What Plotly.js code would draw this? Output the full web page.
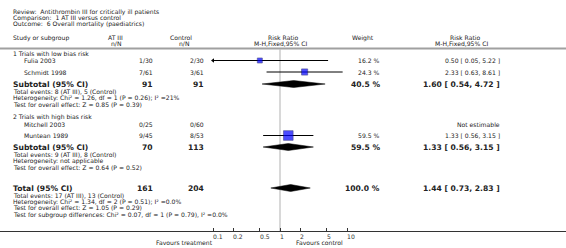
<!DOCTYPE html>
<html><head><meta charset="utf-8">
<script src="https://cdn.plot.ly/plotly-3.0.1.min.js"></script>
<style>html,body{margin:0;padding:0;background:#fff;overflow:hidden}#chart{width:566px;height:248px}</style>
</head><body><div id="chart"></div>
<script>
// ---------------- data ----------------
const reviewTitle = 'Antithrombin III for critically ill patients';
const comparisonTitle = '1 AT III versus control';
const outcomeTitle = '6 Overall mortality (paediatrics)';
const groupNames = ['1 Trials with low bias risk', '2 Trials with high bias risk'];
const studyNames = ['Fulia 2003', 'Schmidt 1998', 'Mitchell 2003', 'Muntean 1989'];
const studyGroup = [0, 0, 1, 1];
const treatEvents = ['1/30', '7/61', '0/25', '9/45'];
const controlEvents = ['2/30', '3/61', '0/60', '8/53'];
const studyRR = [0.50, 2.33, null, 1.33];
const studyLow = [0.05, 0.63, null, 0.56];
const studyHigh = [5.22, 8.61, null, 3.15];
const studyWeight = [16.2, 24.3, null, 59.5];
const subTreatN = [91, 70];
const subControlN = [91, 113];
const subRR = [1.60, 1.33];
const subLow = [0.54, 0.56];
const subHigh = [4.72, 3.15];
const subWeight = [40.5, 59.5];
const subEventsText = ['Total events: 8 (AT III), 5 (Control)', 'Total events: 9 (AT III), 8 (Control)'];
const subHetText = ['Heterogeneity: Chi\u00b2 = 1.26, df = 1 (P = 0.26); I\u00b2 =21%', 'Heterogeneity: not applicable'];
const subTestText = ['Test for overall effect: Z = 0.85 (P = 0.39)', 'Test for overall effect: Z = 0.64 (P = 0.52)'];
const totalTreatN = 161;
const totalControlN = 204;
const totalRR = 1.44, totalLow = 0.73, totalHigh = 2.83;
const totalWeight = 100.0;
const totalNotes = ['Total events: 17 (AT III), 13 (Control)',
  'Heterogeneity: Chi\u00b2 = 1.34, df = 2 (P = 0.51); I\u00b2 =0.0%',
  'Test for overall effect: Z = 1.05 (P = 0.29)',
  'Test for subgroup differences: Chi\u00b2 = 0.07, df = 1 (P = 0.79), I\u00b2 =0.0%'];
const tickVals = [0.1, 0.2, 0.5, 1, 2, 5, 10];
const tickLabels = ['0.1', '0.2', '0.5', '1', '2', '5', '10'];
const favoursLeft = 'Favours treatment';
const favoursRight = 'Favours control';

// ---------------- layout geometry ----------------
const W = 566, H = 248, AXIS_Y = 231;
const PX_ONE = 280, PX_DECADE = 67;
const FONT = 'DejaVu Sans';
const FS = 6.1, FSB = 7.6;
const TXT = '#222';
const LS = 6.3;
const studyRowY = [60.5, 72, 124.5, 135.5];
const groupLabelY = [54, 117.5];
const subRowY = [84, 147];
const noteOffsets = [7.5, 7.5 + LS, 7.5 + 2 * LS];
const totalRowY = 188;
const totalNoteOffsets = [7.3, 13.6, 19.9, 26.6];
const colStudy = 13, colStudyIndent = 24, colTreat = 153, colCtrl = 204, colWeight = 380, colRR = 500;

const xp = px => px / W;
const yp = py => (AXIS_Y - py) / AXIS_Y;
function ann(text, px, py, anchor, size, bold, color) {
  return {xref: 'paper', yref: 'paper', x: xp(px), y: yp(py), xanchor: anchor, yanchor: 'middle',
    text: bold ? '<b>' + text + '</b>' : text, showarrow: false, borderpad: 0, borderwidth: 0,
    font: {family: FONT, size: size || FS, color: color || TXT}};
}
const fmtRR = (r, l, h) => r.toFixed(2) + ' [ ' + l.toFixed(2) + ', ' + h.toFixed(2) + ' ]';
const fmtW = w => w.toFixed(1) + ' %';

const annotations = [];
annotations.push(ann('Review:\u00a0 ' + reviewTitle, colStudy, 11.5, 'left'));
annotations.push(ann('Comparison:\u00a0 ' + comparisonTitle, colStudy, 11.5 + LS, 'left'));
annotations.push(ann('Outcome:\u00a0 ' + outcomeTitle, colStudy, 11.5 + 2 * LS, 'left'));
annotations.push(ann('Study or subgroup', colStudy, 37.5, 'left'));
annotations.push(ann('AT III', 123, 37.5, 'right'));
annotations.push(ann('n/N', 121, 43.6, 'right'));
annotations.push(ann('Control', 192, 37.5, 'right'));
annotations.push(ann('n/N', 189, 43.6, 'right'));
annotations.push(ann('Risk Ratio', 283, 37.5, 'center'));
annotations.push(ann('M-H,Fixed,95% CI', 280, 43.6, 'center'));
annotations.push(ann('Weight', 363, 37.5, 'center'));
annotations.push(ann('Risk Ratio', 465, 37.5, 'center'));
annotations.push(ann('M-H,Fixed,95% CI', 461, 43.6, 'center'));

groupNames.forEach((g, gi) => {
  annotations.push(ann(g, colStudy, groupLabelY[gi], 'left'));
  const y = subRowY[gi];
  annotations.push(ann('Subtotal (95% CI)', colStudy, y, 'left', FSB, true));
  annotations.push(ann(String(subTreatN[gi]), colTreat, y, 'right', FSB, true));
  annotations.push(ann(String(subControlN[gi]), colCtrl, y, 'right', FSB, true));
  annotations.push(ann(fmtW(subWeight[gi]), colWeight, y, 'right', FSB, true));
  annotations.push(ann(fmtRR(subRR[gi], subLow[gi], subHigh[gi]), colRR, y, 'right', FSB, true));
  annotations.push(ann(subEventsText[gi], colStudy, y + noteOffsets[0], 'left'));
  annotations.push(ann(subHetText[gi], colStudy, y + noteOffsets[1], 'left'));
  annotations.push(ann(subTestText[gi], colStudy, y + noteOffsets[2], 'left'));
});
studyNames.forEach((s, i) => {
  const y = studyRowY[i];
  annotations.push(ann(s, colStudyIndent, y, 'left'));
  annotations.push(ann(treatEvents[i], colTreat, y, 'right'));
  annotations.push(ann(controlEvents[i], colCtrl, y, 'right'));
  if (studyRR[i] == null) {
    annotations.push(ann('Not estimable', colRR, y, 'right'));
  } else {
    annotations.push(ann(fmtW(studyWeight[i]), colWeight, y, 'right'));
    annotations.push(ann(fmtRR(studyRR[i], studyLow[i], studyHigh[i]), colRR, y, 'right'));
  }
});
annotations.push(ann('Total (95% CI)', colStudy, totalRowY, 'left', FSB, true));
annotations.push(ann(String(totalTreatN), colTreat, totalRowY, 'right', FSB, true));
annotations.push(ann(String(totalControlN), colCtrl, totalRowY, 'right', FSB, true));
annotations.push(ann(fmtW(totalWeight), colWeight, totalRowY, 'right', FSB, true));
annotations.push(ann(fmtRR(totalRR, totalLow, totalHigh), colRR, totalRowY, 'right', FSB, true));
totalNotes.forEach((t, k) => annotations.push(ann(t, colStudy, totalRowY + totalNoteOffsets[k], 'left')));

// tick labels (left-aligned at tick, as in the source)
tickVals.forEach((v, k) => {
  annotations.push({xref: 'x', yref: 'paper', x: Math.log10(v), y: yp(236.5), xanchor: 'left', yanchor: 'middle',
    text: tickLabels[k], showarrow: false, borderpad: 0, borderwidth: 0, font: {family: FONT, size: FS, color: '#333'}});
});
annotations.push(ann(favoursLeft, 213, 242.5, 'right'));
annotations.push(ann(favoursRight, 296, 242.5, 'left'));

// ---------------- traces ----------------
const XMIN = tickVals[0], XMAX = tickVals[tickVals.length - 1];
const traces = [];
traces.push({type: 'scatter', mode: 'lines', x: [1, 1], y: [49.5, AXIS_Y], line: {color: '#d8d8d8', width: 2}, hoverinfo: 'skip'});

const ciX = [], ciY = [], sqX = [], sqY = [], sqS = [], arX = [], arY = [];
studyRR.forEach((r, i) => {
  if (r == null) return;
  const y = studyRowY[i];
  ciX.push(Math.max(studyLow[i], XMIN), Math.min(studyHigh[i], XMAX), null);
  ciY.push(y, y, null);
  if (studyLow[i] < XMIN) { arX.push(XMIN); arY.push(y); }
  sqX.push(r); sqY.push(y); sqS.push(1.25 * Math.sqrt(studyWeight[i]));
});
traces.push({type: 'scatter', mode: 'lines', x: ciX, y: ciY, line: {color: '#000', width: 1}, hoverinfo: 'skip'});
traces.push({type: 'scatter', mode: 'markers', x: arX, y: arY, marker: {symbol: 'triangle-left', size: 4, color: '#000'}, hoverinfo: 'skip'});
traces.push({type: 'scatter', mode: 'markers', x: sqX, y: sqY,
  marker: {symbol: 'square', size: sqS, color: '#0000ff', line: {color: '#000060', width: 0.6}}, hoverinfo: 'skip'});

const DH = 3.5;
function diamond(r, l, h, y) {
  return {type: 'scatter', mode: 'lines', x: [l, r, h, r, l], y: [y, y - DH, y, y + DH, y],
    fill: 'toself', fillcolor: '#000', line: {color: '#000', width: 0.5}, hoverinfo: 'skip'};
}
subRR.forEach((r, gi) => traces.push(diamond(r, subLow[gi], subHigh[gi], subRowY[gi])));
traces.push(diamond(totalRR, totalLow, totalHigh, totalRowY));

const layout = {
  width: W, height: H, autosize: false,
  margin: {l: 0, r: 0, t: 0, b: H - AXIS_Y, pad: 0},
  paper_bgcolor: '#fff', plot_bgcolor: 'rgba(0,0,0,0)',
  showlegend: false,
  xaxis: {type: 'log', range: [-PX_ONE / PX_DECADE, (W - PX_ONE) / PX_DECADE], domain: [0, 1],
    tickmode: 'array', tickvals: tickVals, ticktext: tickLabels, showticklabels: false,
    ticks: 'inside', ticklen: 3, tickwidth: 1, tickcolor: '#333',
    showline: true, linecolor: '#333', linewidth: 1, showgrid: false, zeroline: false, fixedrange: true},
  yaxis: {range: [AXIS_Y, 0], domain: [0, 1], visible: false, showgrid: false, zeroline: false, fixedrange: true},
  shapes: [{type: 'line', xref: 'paper', yref: 'y', x0: 0, x1: 1, y0: 48.5, y1: 48.5, line: {color: '#a0a0a0', width: 2}}],
  annotations: annotations
};
Plotly.newPlot('chart', traces, layout, {staticPlot: true, displayModeBar: false});
</script></body></html>
